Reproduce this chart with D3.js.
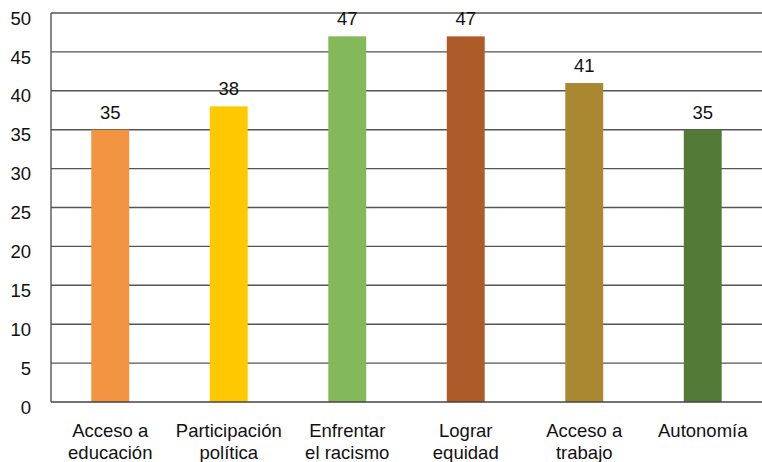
<!DOCTYPE html>
<html>
<head>
<meta charset="utf-8">
<script src="https://cdn.jsdelivr.net/npm/d3@7"></script>
<style>
  body { margin: 0; background: #fff; }
  text { font-family: "Liberation Sans", Arial, sans-serif; fill: #111; }
</style>
</head>
<body>
<div id="chartArea"></div>
<script>
var categories = [
    ['Acceso a', 'educación'],
    ['Participación', 'política'],
    ['Enfrentar', 'el racismo'],
    ['Lograr', 'equidad'],
    ['Acceso a', 'trabajo'],
    ['Autonomía']
];
var values = [35, 38, 47, 47, 41, 35];
var colors = ['#F29441', '#FFC900', '#83B95B', '#AD5C29', '#AA8731', '#547A38'];
var yTicks = [0, 5, 10, 15, 20, 25, 30, 35, 40, 45, 50];

var w = 762, h = 462;
var plotLeft = 51, plotRight = 762, plotTop = 13, plotBottom = 402;
var fontSize = '18.5px';

var svg = d3.select('#chartArea').append('svg')
    .attr('width', w)
    .attr('height', h);

var xScale = d3.scaleBand()
    .domain(d3.range(values.length))
    .range([plotLeft, plotRight])
    .paddingInner(0.68)
    .paddingOuter(0.34);

var yScale = d3.scaleLinear()
    .domain([0, 50])
    .range([plotBottom, plotTop]);

// gridlines
svg.selectAll('line.grid')
    .data(yTicks.slice(1))
    .enter()
    .append('line')
    .attr('class', 'grid')
    .attr('x1', plotLeft)
    .attr('x2', plotRight)
    .attr('y1', function (d) { return yScale(d); })
    .attr('y2', function (d) { return yScale(d); })
    .attr('stroke', '#555')
    .attr('stroke-width', 1.4);

// y labels (sit a little below their gridline, as in the original)
svg.selectAll('text.ytick')
    .data(yTicks)
    .enter()
    .append('text')
    .attr('class', 'ytick')
    .attr('x', 31)
    .attr('y', function (d) { return yScale(d) + 5; })
    .attr('dy', '0.36em')
    .attr('text-anchor', 'end')
    .style('font-size', fontSize)
    .text(function (d) { return d; });

// bars
svg.selectAll('rect')
    .data(values)
    .enter()
    .append('rect')
    .attr('x', function (d, i) { return xScale(i); })
    .attr('y', function (d) { return yScale(d); })
    .attr('width', xScale.bandwidth())
    .attr('height', function (d) { return plotBottom - yScale(d); })
    .attr('fill', function (d, i) { return colors[i]; });

// value labels
svg.selectAll('text.val')
    .data(values)
    .enter()
    .append('text')
    .attr('class', 'val')
    .attr('x', function (d, i) { return xScale(i) + xScale.bandwidth() / 2; })
    .attr('y', function (d) { return yScale(d) - 11; })
    .attr('text-anchor', 'middle')
    .style('font-size', fontSize)
    .text(function (d) { return d; });

// axes lines
svg.append('line')
    .attr('x1', plotLeft).attr('x2', plotLeft)
    .attr('y1', plotTop).attr('y2', plotBottom)
    .attr('stroke', '#555').attr('stroke-width', 1.4);
svg.append('line')
    .attr('x1', plotLeft).attr('x2', plotRight)
    .attr('y1', plotBottom).attr('y2', plotBottom)
    .attr('stroke', '#444').attr('stroke-width', 1.6);

// category labels
var cat = svg.selectAll('text.cat')
    .data(categories)
    .enter()
    .append('text')
    .attr('class', 'cat')
    .attr('text-anchor', 'middle')
    .style('font-size', fontSize)
    .attr('transform', function (d, i) {
        return 'translate(' + (xScale(i) + xScale.bandwidth() / 2) + ',437)';
    });
cat.selectAll('tspan')
    .data(function (d) { return d; })
    .enter()
    .append('tspan')
    .attr('x', 0)
    .attr('dy', function (d, j) { return j === 0 ? 0 : 22; })
    .text(function (d) { return d; });
</script>
</body>
</html>
